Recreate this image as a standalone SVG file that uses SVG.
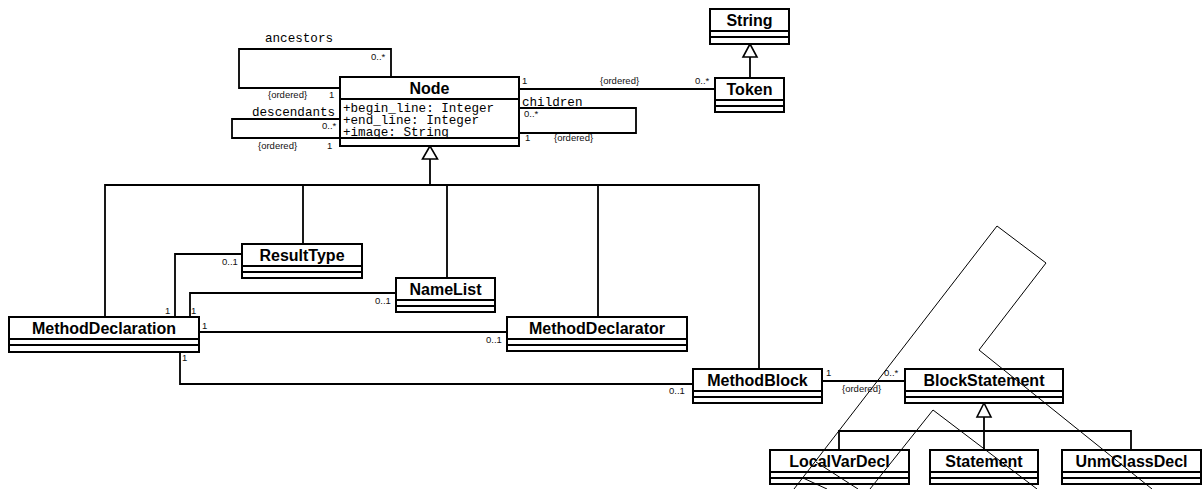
<svg xmlns="http://www.w3.org/2000/svg" width="1204" height="489" viewBox="0 0 1204 489">
<style>
.box{fill:#fff;stroke:#000;stroke-width:2}
.div{stroke:#000;stroke-width:2}
.name{font-family:"Liberation Sans",Arial,sans-serif;font-weight:bold;font-size:16px;text-anchor:middle;fill:#000}
.attr{font-family:"Liberation Mono","Courier New",monospace;font-size:12.6px;fill:#000}
.lbl{font-family:"Liberation Sans",Arial,sans-serif;font-size:9.5px;fill:#111}
.role{font-family:"Liberation Mono","Courier New",monospace;font-size:12.6px;fill:#000}
.con{fill:none;stroke:#000;stroke-width:1.8}
.tri{fill:#fff;stroke:#000;stroke-width:1.6}
.thin{fill:none;stroke:#000;stroke-width:1}
</style>
<rect width="1204" height="489" fill="#fff"/>
<g id="connectors">
  <path class="con" d="M430,159 V185 M105,317 V185 H759 V369 M303,185 V244 M447,185 V278 M598,185 V317"/>
  <polygon class="tri" points="430,146 422.5,159 437.5,159"/>
  <path class="con" d="M750,57 V78"/>
  <polygon class="tri" points="750,44 743,57 757,57"/>
  <path class="con" d="M984,417 V450 M839,450 V431 H1131 V450"/>
  <polygon class="tri" points="984,403 977,417 991,417"/>
  <path class="con" d="M519,89 H715"/>
  <path class="con" d="M340,88 H239 V49 H391 V77"/>
  <path class="con" d="M340,119 H232 V138 H340"/>
  <path class="con" d="M519,108 H636 V133 H519"/>
  <path class="con" d="M242,254 H175 V317"/>
  <path class="con" d="M396,293 H190 V317"/>
  <path class="con" d="M199,332 H507"/>
  <path class="con" d="M180,352 V384 H693"/>
  <path class="con" d="M822,381 H905"/>
  <text class="role" x="265" y="42">ancestors</text>
  <text class="lbl" x="371" y="60">0..*</text>
  <text class="lbl" x="268" y="97.5">{ordered}</text>
  <text class="lbl" x="329" y="97.5">1</text>
  <text class="role" x="252" y="115.5">descendants</text>
  <text class="lbl" x="322" y="129">0..*</text>
  <text class="lbl" x="258" y="148.5">{ordered}</text>
  <text class="lbl" x="327" y="148.5">1</text>
  <text class="lbl" x="522" y="83.5">1</text>
  <text class="lbl" x="600" y="83.5">{ordered}</text>
  <text class="lbl" x="695" y="83.5">0..*</text>
  <text class="role" x="522" y="105.5">children</text>
  <text class="lbl" x="524" y="116.5">0..*</text>
  <text class="lbl" x="525" y="141">1</text>
  <text class="lbl" x="554" y="141">{ordered}</text>
  <text class="lbl" x="222" y="264.5">0..1</text>
  <text class="lbl" x="165" y="314">1</text>
  <text class="lbl" x="191" y="314">1</text>
  <text class="lbl" x="375" y="303.5">0..1</text>
  <text class="lbl" x="202" y="328.5">1</text>
  <text class="lbl" x="486" y="343">0..1</text>
  <text class="lbl" x="182" y="361">1</text>
  <text class="lbl" x="669" y="394">0..1</text>
  <text class="lbl" x="826" y="376">1</text>
  <text class="lbl" x="884" y="376">0..*</text>
  <text class="lbl" x="842" y="392">{ordered}</text>
</g>
<g id="Node">
  <rect class="box" x="340" y="77" width="179" height="69"/>
  <path class="div" d="M340,99 H519 M340,138 H519"/>
  <text class="name" x="429.5" y="94">Node</text>
  <text class="attr" x="343" y="112">+begin_line: Integer</text>
  <text class="attr" x="343" y="124">+end_line: Integer</text>
  <text class="attr" x="343" y="136">+image: String</text>
</g>
<g id="String">
  <rect class="box" x="710" y="9" width="79" height="35"/>
  <path class="div" d="M710,31 H789 M710,37 H789"/>
  <text class="name" x="749.5" y="26">String</text>
</g>
<g id="Token">
  <rect class="box" x="715" y="78" width="69" height="34"/>
  <path class="div" d="M715,100 H784 M715,106 H784"/>
  <text class="name" x="749.5" y="95">Token</text>
</g>
<g id="ResultType">
  <rect class="box" x="242" y="244" width="120" height="34"/>
  <path class="div" d="M242,266 H362 M242,272 H362"/>
  <text class="name" x="302" y="261">ResultType</text>
</g>
<g id="NameList">
  <rect class="box" x="396" y="278" width="99" height="34"/>
  <path class="div" d="M396,300 H495 M396,306 H495"/>
  <text class="name" x="445.5" y="295">NameList</text>
</g>
<g id="MethodDeclaration">
  <rect class="box" x="9" y="317" width="190" height="35"/>
  <path class="div" d="M9,339 H199 M9,345 H199"/>
  <text class="name" x="104" y="334">MethodDeclaration</text>
</g>
<g id="MethodDeclarator">
  <rect class="box" x="507" y="317" width="180" height="34"/>
  <path class="div" d="M507,339 H687 M507,345 H687"/>
  <text class="name" x="597" y="334">MethodDeclarator</text>
</g>
<g id="MethodBlock">
  <rect class="box" x="693" y="369" width="129" height="34"/>
  <path class="div" d="M693,391 H822 M693,397 H822"/>
  <text class="name" x="757.5" y="386">MethodBlock</text>
</g>
<g id="BlockStatement">
  <rect class="box" x="905" y="369" width="158" height="34"/>
  <path class="div" d="M905,391 H1063 M905,397 H1063"/>
  <text class="name" x="984" y="386">BlockStatement</text>
</g>
<g id="LocalVarDecl">
  <rect class="box" x="770" y="450" width="139" height="34"/>
  <path class="div" d="M770,472 H909 M770,478 H909"/>
  <text class="name" x="839.5" y="467">LocalVarDecl</text>
</g>
<g id="Statement">
  <rect class="box" x="930" y="450" width="108" height="34"/>
  <path class="div" d="M930,472 H1038 M930,478 H1038"/>
  <text class="name" x="984" y="467">Statement</text>
</g>
<g id="UnmClassDecl">
  <rect class="box" x="1062" y="450" width="139" height="34"/>
  <path class="div" d="M1062,472 H1201 M1062,478 H1201"/>
  <text class="name" x="1131.5" y="467">UnmClassDecl</text>
</g>
<g id="scribble">
  <polyline class="thin" points="794,489 997,226 1046,263 979,350 1152,489"/>
  <polyline class="thin" points="870,489 933,410 1037,489"/>
  <line class="thin" x1="816" y1="462" x2="858" y2="489"/>
  <line class="thin" x1="803" y1="478" x2="827" y2="489"/>
</g>
</svg>
